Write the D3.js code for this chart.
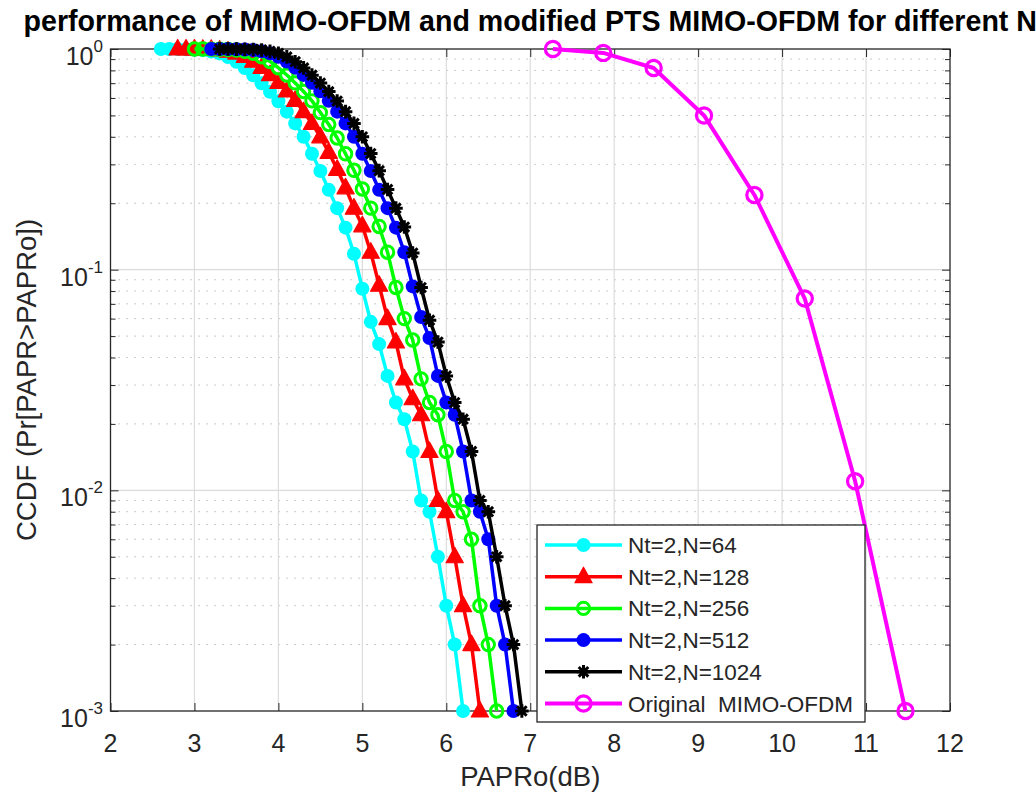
<!DOCTYPE html>
<html>
<head>
<meta charset="utf-8">
<script src="https://cdn.jsdelivr.net/npm/d3@7"></script>
<style>
  body { margin: 0; background: #fff; }
  svg { display: block; font-family: "Liberation Sans", Arial, Helvetica, sans-serif; }
  text { white-space: pre; }
</style>
</head>
<body>
<svg id="chart" width="1036" height="792"></svg>
<script>
// values (PAPRo in dB, probability)
var cyanX = [2.6,2.7,2.8,2.9,3.0,3.1,3.2,3.3,3.4,3.5,3.6,3.7,3.8,3.9,4.0,4.1,4.2,4.3,4.4,4.5,4.6,4.7,4.8,4.9,5.0,5.1,5.2,5.3,5.4,5.5,5.6,5.7,5.8,5.9,6.0,6.1,6.2];
var cyanY = [1.0,1.0,0.999,0.998,0.995,0.99,0.975,0.955,0.92,0.875,0.82,0.76,0.70,0.64,0.58,0.52,0.46,0.40,0.335,0.28,0.23,0.19,0.155,0.118,0.082,0.058,0.046,0.033,0.025,0.021,0.015,0.009,0.008,0.005,0.003,0.002,0.001];

var redX = [2.8,2.9,3.0,3.1,3.2,3.3,3.4,3.5,3.6,3.7,3.8,3.9,4.0,4.1,4.2,4.3,4.4,4.5,4.6,4.7,4.8,4.9,5.0,5.1,5.2,5.3,5.4,5.5,5.6,5.7,5.8,5.9,6.0,6.1,6.2,6.3,6.4];
var redY = [1.0,1.0,0.999,0.998,0.996,0.99,0.978,0.958,0.925,0.88,0.825,0.765,0.705,0.645,0.585,0.52,0.46,0.40,0.34,0.285,0.235,0.19,0.158,0.12,0.085,0.06,0.047,0.032,0.026,0.022,0.015,0.009,0.008,0.005,0.003,0.002,0.001];

var greenX = [3.0,3.1,3.2,3.3,3.4,3.5,3.6,3.7,3.8,3.9,4.0,4.1,4.2,4.3,4.4,4.5,4.6,4.7,4.8,4.9,5.0,5.1,5.2,5.3,5.4,5.5,5.6,5.7,5.8,5.9,6.0,6.1,6.2,6.3,6.4,6.5,6.6];
var greenY = [1.0,1.0,0.999,0.998,0.995,0.99,0.976,0.956,0.922,0.878,0.822,0.762,0.702,0.642,0.582,0.515,0.455,0.395,0.335,0.282,0.232,0.19,0.157,0.12,0.083,0.06,0.048,0.032,0.025,0.022,0.015,0.009,0.008,0.006,0.003,0.002,0.001];

var blueX = [3.2,3.3,3.4,3.5,3.6,3.7,3.8,3.9,4.0,4.1,4.2,4.3,4.4,4.5,4.6,4.7,4.8,4.9,5.0,5.1,5.2,5.3,5.4,5.5,5.6,5.7,5.8,5.9,6.0,6.1,6.2,6.3,6.4,6.5,6.6,6.7,6.8];
var blueY = [1.0,1.0,0.999,0.998,0.995,0.99,0.977,0.957,0.923,0.878,0.823,0.763,0.703,0.643,0.583,0.52,0.46,0.40,0.335,0.28,0.23,0.19,0.155,0.12,0.084,0.061,0.049,0.033,0.025,0.022,0.015,0.009,0.008,0.006,0.003,0.002,0.001];

var blackX = [3.3,3.4,3.5,3.6,3.7,3.8,3.9,4.0,4.1,4.2,4.3,4.4,4.5,4.6,4.7,4.8,4.9,5.0,5.1,5.2,5.3,5.4,5.5,5.6,5.7,5.8,5.9,6.0,6.1,6.2,6.3,6.4,6.5,6.6,6.7,6.8,6.9];
var blackY = [1.0,1.0,0.999,0.998,0.995,0.99,0.976,0.956,0.921,0.876,0.821,0.761,0.701,0.641,0.581,0.52,0.46,0.40,0.336,0.281,0.231,0.19,0.156,0.119,0.083,0.059,0.047,0.033,0.025,0.021,0.015,0.009,0.008,0.005,0.003,0.002,0.001];

var origX = [7.27,7.87,8.47,9.07,9.67,10.27,10.87,11.47];
var origY = [1.0,0.96,0.82,0.50,0.218,0.074,0.011,0.001];

var seriesNames = ["Nt=2,N=64", "Nt=2,N=128", "Nt=2,N=256", "Nt=2,N=512", "Nt=2,N=1024", "Original  MIMO-OFDM"];
var xTicks = [2,3,4,5,6,7,8,9,10,11,12];
var yTicks = [1e-3, 1e-2, 1e-1, 1];
var yTickExp = ["-3", "-2", "-1", "0"];

var titleText = "performance of MIMO-OFDM and modified PTS MIMO-OFDM for different N";
var xLabel = "PAPRo(dB)";
var yLabel = "CCDF (Pr[PAPR>PAPRo])";

// ---- layout
const pL = 110.5, pR = 950, pT = 49, pB = 711;
const ink = "#262626";

const svg = d3.select("#chart");

const x = d3.scaleLinear().domain([2, 12]).range([pL, pR]);
const y = d3.scaleLog().domain([1e-3, 1]).range([pB, pT]);

// minor y values for the dotted grid
var minorY = [];
[1e-3, 1e-2, 1e-1].forEach(function (d) {
  for (let k = 2; k <= 9; k++) minorY.push(d * k);
});

const grid = svg.append("g");
grid.selectAll(".minor")
  .data(minorY).enter().append("line")
  .attr("x1", pL).attr("x2", pR)
  .attr("y1", d => y(d)).attr("y2", d => y(d))
  .attr("stroke", "#a8a8a8").attr("stroke-width", 1)
  .attr("stroke-dasharray", "1.2,6.8");

grid.selectAll(".vmajor")
  .data(xTicks.slice(1, -1)).enter().append("line")
  .attr("x1", d => x(d)).attr("x2", d => x(d))
  .attr("y1", pT).attr("y2", pB)
  .attr("stroke", "#dcdcdc").attr("stroke-width", 1.2);

grid.selectAll(".hmajor")
  .data(yTicks.slice(1, -1)).enter().append("line")
  .attr("x1", pL).attr("x2", pR)
  .attr("y1", d => y(d)).attr("y2", d => y(d))
  .attr("stroke", "#dcdcdc").attr("stroke-width", 1.2);

// axes (ticks inward, box on)
const tickLen = 8, minorLen = 5;
const axisG = svg.append("g");

axisG.append("g")
  .attr("transform", `translate(0,${pB})`)
  .call(d3.axisBottom(x).tickValues(xTicks).tickSize(-tickLen).tickFormat(""))
  .call(g => g.select(".domain").remove());
axisG.append("g")
  .attr("transform", `translate(0,${pT})`)
  .call(d3.axisTop(x).tickValues(xTicks).tickSize(-tickLen).tickFormat(""))
  .call(g => g.select(".domain").remove());
axisG.append("g")
  .attr("transform", `translate(${pL},0)`)
  .call(d3.axisLeft(y).tickValues(yTicks).tickSize(-tickLen).tickFormat(""))
  .call(g => g.select(".domain").remove());
axisG.append("g")
  .attr("transform", `translate(${pR},0)`)
  .call(d3.axisRight(y).tickValues(yTicks).tickSize(-tickLen).tickFormat(""))
  .call(g => g.select(".domain").remove());
axisG.append("g")
  .attr("transform", `translate(${pL},0)`)
  .call(d3.axisLeft(y).tickValues(minorY).tickSize(-minorLen).tickFormat(""))
  .call(g => g.select(".domain").remove());
axisG.append("g")
  .attr("transform", `translate(${pR},0)`)
  .call(d3.axisRight(y).tickValues(minorY).tickSize(-minorLen).tickFormat(""))
  .call(g => g.select(".domain").remove());
axisG.selectAll(".tick line").attr("stroke", ink).attr("stroke-width", 1);

axisG.append("rect")
  .attr("x", pL).attr("y", pT)
  .attr("width", pR - pL).attr("height", pB - pT)
  .attr("fill", "none").attr("stroke", ink).attr("stroke-width", 1.3);

// tick labels
svg.append("g").selectAll("text")
  .data(xTicks).enter().append("text")
  .attr("x", d => x(d)).attr("y", 752)
  .attr("text-anchor", "middle")
  .attr("font-size", 25).attr("fill", ink)
  .text(d => d);

const yl = svg.append("g").selectAll("text")
  .data(yTicks).enter().append("text")
  .attr("x", 103).attr("y", d => y(d) + 16)
  .attr("text-anchor", "end")
  .attr("font-size", 25).attr("fill", ink);
yl.append("tspan").text("10");
yl.append("tspan").attr("dy", -13).attr("font-size", 17)
  .text((d, i) => yTickExp[i]);

// labels + title
svg.append("text")
  .attr("x", (pL + pR) / 2).attr("y", 786)
  .attr("text-anchor", "middle").attr("font-size", 27.5).attr("fill", ink)
  .text(xLabel);

svg.append("text")
  .attr("transform", `translate(36,${(pT + pB) / 2}) rotate(-90)`)
  .attr("text-anchor", "middle").attr("font-size", 27.5).attr("fill", ink)
  .text(yLabel);

svg.append("text")
  .attr("x", (pL + pR) / 2).attr("y", 31)
  .attr("text-anchor", "middle").attr("font-size", 28.6)
  .attr("font-weight", "bold").attr("fill", "#000")
  .text(titleText);

// ---- markers
function drawMarker(g, kind, color) {
  if (kind === "dot") {
    g.append("circle").attr("r", 7).attr("fill", color);
  } else if (kind === "tri") {
    g.append("path").attr("d", "M0,-9.5L8.6,6L-8.6,6Z")
      .attr("fill", color).attr("stroke", color).attr("stroke-width", 1.2)
      .attr("stroke-linejoin", "round");
  } else if (kind === "ring") {
    g.append("circle").attr("r", 6.2).attr("fill", "none")
      .attr("stroke", color).attr("stroke-width", 3);
  } else if (kind === "bigring") {
    g.append("circle").attr("r", 7.6).attr("fill", "none")
      .attr("stroke", color).attr("stroke-width", 3.2);
  } else if (kind === "star") {
    g.append("path")
      .attr("d", "M0,-6.8V6.8M-6.8,0H6.8M-4.8,-4.8L4.8,4.8M-4.8,4.8L4.8,-4.8")
      .attr("stroke", color).attr("stroke-width", 3).attr("fill", "none");
  }
}

var series = [
  { xs: cyanX, ys: cyanY, color: "#00ffff", marker: "dot", lw: 3.5 },
  { xs: redX, ys: redY, color: "#ff0000", marker: "tri", lw: 3.5 },
  { xs: greenX, ys: greenY, color: "#00ff00", marker: "ring", lw: 3.5 },
  { xs: blueX, ys: blueY, color: "#0000ff", marker: "dot", lw: 3.5 },
  { xs: blackX, ys: blackY, color: "#000000", marker: "star", lw: 3.5 },
  { xs: origX, ys: origY, color: "#ff00ff", marker: "bigring", lw: 4 }
];

const line = d3.line().x(d => x(d[0])).y(d => y(d[1]));

series.forEach(function (s) {
  var pts = s.xs.map((v, i) => [v, s.ys[i]]);
  var g = svg.append("g");
  g.append("path").datum(pts)
    .attr("d", line).attr("fill", "none")
    .attr("stroke", s.color).attr("stroke-width", s.lw)
    .attr("stroke-linejoin", "round");
  g.selectAll(".m").data(pts).enter().append("g")
    .attr("transform", d => `translate(${x(d[0])},${y(d[1])})`)
    .each(function () { drawMarker(d3.select(this), s.marker, s.color); });
});

// ---- legend
const lg = svg.append("g");
lg.append("rect")
  .attr("x", 537).attr("y", 525).attr("width", 328).attr("height", 197)
  .attr("fill", "#fff").attr("stroke", ink).attr("stroke-width", 1.3);

const rows = lg.selectAll(".row").data(series).enter().append("g")
  .attr("transform", (d, i) => `translate(0,${545 + i * 31.7})`);
rows.append("line")
  .attr("x1", 545).attr("x2", 622)
  .attr("stroke", d => d.color).attr("stroke-width", d => d.lw);
rows.append("g").attr("transform", "translate(583.5,0)")
  .each(function (d) { drawMarker(d3.select(this), d.marker, d.color); });
rows.append("text")
  .attr("x", 628).attr("y", 8)
  .attr("font-size", 22.5).attr("fill", ink)
  .text((d, i) => seriesNames[i]);
</script>
</body>
</html>
